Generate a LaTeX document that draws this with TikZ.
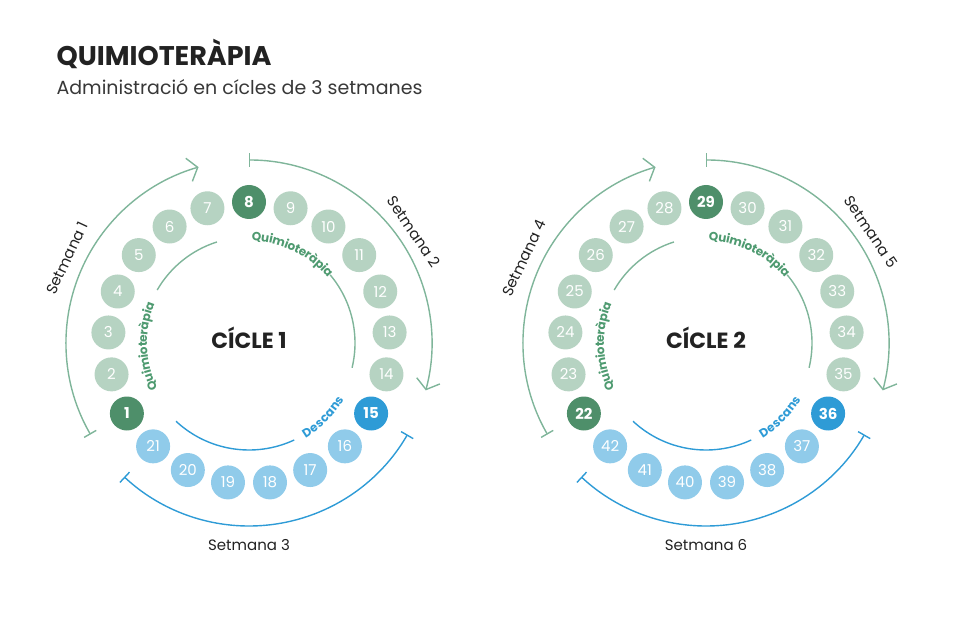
\documentclass[tikz,border=0pt]{standalone}
\usepackage{fontspec}
\setmainfont{Poppins}
\usetikzlibrary{decorations.text,arrows.meta,calc}
\definecolor{lg}{HTML}{B6D3C2}
\definecolor{dg}{HTML}{4E8F6A}
\definecolor{bl}{HTML}{2E9BD6}
\definecolor{lb}{HTML}{90CBEA}
\definecolor{gl}{HTML}{7FB59A}
\definecolor{gt}{HTML}{4E9A70}
\definecolor{tx}{HTML}{222222}
\tikzset{
  day/.style={circle,minimum size=34pt,inner sep=0pt,text=white,font=\fontsize{15}{15}\selectfont},
  lgday/.style={day,fill=lg},
  dgday/.style={day,fill=dg,font=\fontsize{15}{15}\selectfont\bfseries},
  lbday/.style={day,fill=lb},
  blday/.style={day,fill=bl,font=\fontsize{15}{15}\selectfont\bfseries},
  garc/.style={draw=gl,line width=1.4pt},
  barc/.style={draw=bl,line width=1.4pt},
  wk/.style={font=\fontsize{15}{15}\selectfont,text=tx},
}
\begin{document}
\begin{tikzpicture}[x=1pt,y=1pt]
\useasboundingbox (0,0) rectangle (960,619);
\node[anchor=base west,font=\fontsize{27}{27}\selectfont\bfseries,text=tx] (title) at (53,553) {QUIMIOTERÀPIA};
\node[anchor=base west,font=\fontsize{19}{19}\selectfont,text=tx!90] (sub) at (53,524) {Administració en cícles de 3 setmanes};
\foreach \cx/\cyc/\wa/\wb/\wc in {249/1/1/2/3, 706/2/4/5/6}{
  \coordinate (c\cyc) at (\cx,276);
  \node[font=\fontsize{22}{22}\selectfont\bfseries,text=tx] (lab\cyc) at ($(c\cyc)+(0,5)$) {CÍCLE \cyc};
  \pgfmathtruncatemacro{\off}{(\cyc-1)*21}
  \foreach \i in {1,...,21}{
    \pgfmathsetmacro{\ang}{90+(8-\i)*360/21}
    \pgfmathtruncatemacro{\num}{\i+\off}
    \ifnum\i=1 \def\st{dgday}\else\ifnum\i=8 \def\st{dgday}\else\ifnum\i=15 \def\st{blday}\else\ifnum\i<15 \def\st{lgday}\else\def\st{lbday}\fi\fi\fi\fi
    \node[\st] (d\cyc-\i) at ($(c\cyc)+(\ang:141)$) {\num};
  }
  \draw[garc] ($(c\cyc)+(150:106)$) arc[start angle=150,end angle=107.6,radius=106];
  \draw[garc] ($(c\cyc)+(40:106)$) arc[start angle=40,end angle=-13.5,radius=106];
  \draw[barc] ($(c\cyc)+(227:107)$) arc[start angle=227,end angle=295,radius=107];
  \path[decorate,decoration={text along path,text align=center,raise=-4pt,
      text={|\fontsize{12}{12}\selectfont\bfseries\color{gt}|Quimioteràpia}}]
    ($(c\cyc)+(90:106)$) arc[start angle=90,end angle=38,radius=106];
  \path[decorate,decoration={text along path,text align=center,raise=-4pt,
      text={|\fontsize{12}{12}\selectfont\bfseries\color{gt}|Quimioteràpia}}]
    ($(c\cyc)+(211:106)$) arc[start angle=211,end angle=153,radius=106];
  \path[decorate,decoration={text along path,text align=center,raise=-4.5pt,
      text={|\fontsize{12}{12}\selectfont\bfseries\color{bl}|Descans}}]
    ($(c\cyc)+(296:106)$) arc[start angle=296,end angle=334,radius=106];
  \draw[garc,{Bar[width=14pt]}-{Straight Barb[length=9pt,width=24pt]}] ($(c\cyc)+(210:183)$) arc[start angle=210,end angle=106,radius=183];
  \draw[garc,{Bar[width=14pt]}-{Straight Barb[length=9pt,width=24pt]}] ($(c\cyc)+(90:183)$) arc[start angle=90,end angle=-15,radius=183];
  \draw[barc,{Bar[width=14pt]}-{Bar[width=14pt]}] ($(c\cyc)+(-30:183)$) arc[start angle=-30,end angle=-133,radius=183];
  \node[wk,rotate=65] (w\wa) at ($(c\cyc)+(155:201)$) {Setmana \wa};
  \node[wk,rotate=-56] (w\wb) at ($(c\cyc)+(34:199)$) {Setmana \wb};
  \node[wk] (w\wc) at ($(c\cyc)+(-90:202)$) {Setmana \wc};
}
\end{tikzpicture}
\end{document}
